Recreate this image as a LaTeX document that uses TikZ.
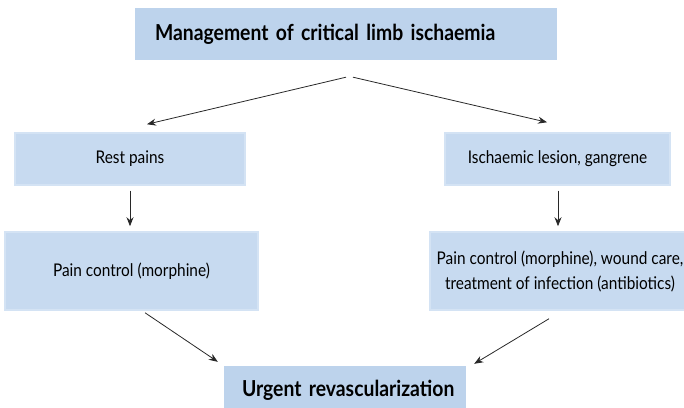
\documentclass[tikz,border=0pt]{standalone}
\usepackage{fontspec}
\usetikzlibrary{arrows.meta}
\setmainfont{Lato}[FakeStretch=0.88]
\definecolor{boxfill}{RGB}{199,218,240}
\definecolor{boxedge}{RGB}{212,227,244}
\definecolor{headfill}{RGB}{189,211,236}
\definecolor{arrowgray}{RGB}{40,40,40}

\begin{document}
\begin{tikzpicture}[x=1pt,y=1pt,>={Stealth[length=9pt,width=7pt]},
    stage/.style={fill=boxfill, draw=boxedge, line width=1.5pt, inner sep=0pt, align=center, font=\fontsize{17.5}{25}\selectfont},
    headbox/.style={fill=headfill, inner sep=0pt, font=\bfseries\fontsize{22}{26}\selectfont},
    arrow/.style={->, draw=arrowgray, line width=0.8pt}]

  \useasboundingbox (0,0) rectangle (684,407);

  % Draw the boxes
  \node[headbox, minimum width=422, minimum height=52, text width=382, align=left] (title) at (346,373) {Management of critical limb ischaemia};

  \node[stage, minimum width=230, minimum height=52] (rest) at (130,248) {Rest pains};
  \node[stage, minimum width=225, minimum height=52] (lesion) at (557.5,248) {Ischaemic lesion, gangrene};

  \node[stage, minimum width=253, minimum height=78] (pain) at (131.5,136) {Pain control (morphine)};
  \node[stage, minimum width=260, minimum height=78] (care) at (560,136) {Pain control (morphine), wound care,\\treatment of infection (antibiotics)};

  \node[headbox, minimum width=242, minimum height=48, text width=206, align=left] (urgent) at (345,17) {\mbox{Urgent revascularization}};

  % Draw the arrows
  \draw[arrow] ([yshift=-17]title.south) -- ([xshift=17,yshift=8]rest.north);
  \draw[arrow] ([xshift=7,yshift=-17]title.south) -- ([xshift=-10.5,yshift=10]lesion.north);

  \draw[arrow] ([yshift=-5]rest.south) -- ([xshift=-1.5,yshift=5]pain.north);
  \draw[arrow] ([xshift=0.5,yshift=-5]lesion.south) -- ([xshift=-2,yshift=5]care.north);

  \draw[arrow] ([xshift=13.5,yshift=-2]pain.south) -- ([xshift=-6,yshift=4]urgent.north west);
  \draw[arrow] ([xshift=-11,yshift=-8]care.south) -- ([xshift=8,yshift=2]urgent.north east);

\end{tikzpicture}
\end{document}
